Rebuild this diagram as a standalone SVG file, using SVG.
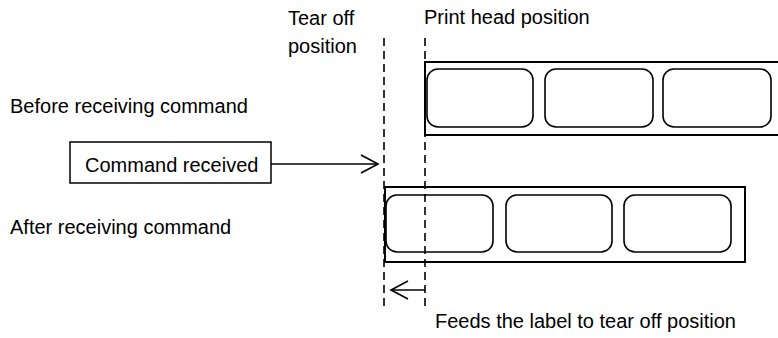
<svg xmlns="http://www.w3.org/2000/svg" width="778" height="338" viewBox="0 0 778 338">
<defs>
<style>
text{font-family:"Liberation Sans",Arial,sans-serif;font-size:20px;fill:#000}
.strip{fill:#fff;stroke:#000;stroke-width:2}
.lbl{fill:#fff;stroke:#000;stroke-width:1.6}
.dash{stroke:#000;stroke-width:1.6;stroke-dasharray:8 5;fill:none}
.ln{stroke:#000;stroke-width:1.5;fill:none}
</style>
<marker id="oa" viewBox="0 0 20 20" refX="18" refY="10" markerWidth="20" markerHeight="20" markerUnits="userSpaceOnUse" orient="auto">
<path d="M1,1 L18,10 L1,19" fill="none" stroke="#000" stroke-width="1.6"/>
</marker>
</defs>
<rect width="778" height="338" fill="#fff"/>
<g id="texts">
<text x="288" y="25">Tear off</text>
<text x="288" y="53">position</text>
<text x="424" y="24">Print head position</text>
<text x="10" y="113">Before receiving command</text>
<text x="10" y="234">After receiving command</text>
<text x="435" y="328">Feeds the label to tear off position</text>
</g>
<g id="strip-before">
<rect class="strip" x="425" y="62" width="360" height="73"/>
<rect class="lbl" x="427" y="69" width="106" height="58" rx="11"/>
<rect class="lbl" x="545" y="69" width="108" height="58" rx="11"/>
<rect class="lbl" x="663" y="69" width="108" height="58" rx="11"/>
</g>
<g id="strip-after">
<rect class="strip" x="385" y="187" width="360" height="75"/>
<rect class="lbl" x="386" y="195" width="107" height="57" rx="11"/>
<rect class="lbl" x="506" y="195" width="106" height="57" rx="11"/>
<rect class="lbl" x="624" y="195" width="107" height="57" rx="11"/>
</g>
<g id="command-box">
<rect x="70" y="142" width="201" height="41" fill="#fff" stroke="#000" stroke-width="1.5"/>
<text x="85" y="172">Command received</text>
</g>
<g id="guides">
<line class="dash" x1="384" y1="38" x2="384" y2="308"/>
<line class="dash" x1="425" y1="38" x2="425" y2="308"/>
</g>
<g id="connectors">
<line class="ln" x1="271" y1="164" x2="378" y2="164" marker-end="url(#oa)"/>
<line class="ln" x1="425" y1="290" x2="391" y2="290" marker-end="url(#oa)"/>
</g>
</svg>
